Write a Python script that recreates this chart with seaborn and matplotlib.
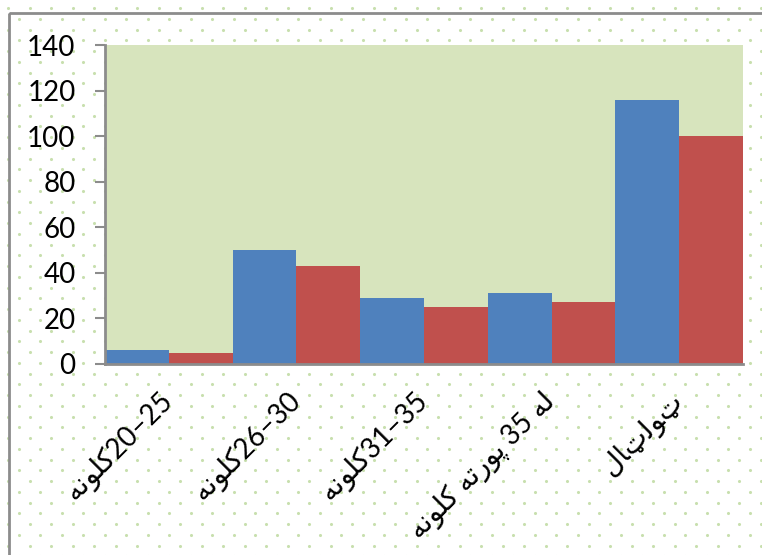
import numpy as np
import pandas as pd
import matplotlib
matplotlib.use("Agg")
import matplotlib.pyplot as plt
import seaborn as sns
from matplotlib.patches import Rectangle

# Age groups (Pashto, written in shaped presentation forms, visual order)
KALONA = "\uFEEA\uFEE7\uFEEE\uFEE0\uFB90"          # کلونه
PORTA = "\uFEEA\uFE97\uFEAD\uFEEE\uFB58"           # پورته
LA = "\uFEEA\uFEDF"                                # له
TOTAL = "\uFEDD\uFE8E\u067C\uFEDF\uFEEE\u067C"     # ټولټال

categories = [
    KALONA + "20\u201325",
    KALONA + "26\u201330",
    KALONA + "31\u201335",
    KALONA + " " + PORTA + " 35 " + LA,
    TOTAL,
]
series_a = [6, 50, 29, 31, 116]
series_b = [5, 43, 25, 27, 100]
y_ticks = [0, 20, 40, 60, 80, 100, 120, 140]

df = pd.DataFrame({
    "category": categories * 2,
    "value": series_a + series_b,
    "series": ["a"] * 5 + ["b"] * 5,
})

sns.set_theme(style="white")
plt.rcParams["font.family"] = ["Lato", "DejaVu Sans"]

W, H = 762, 555
fig = plt.figure(figsize=(W / 100, H / 100), dpi=100)
fig.patch.set_facecolor("white")

# dotted backdrop
bg = fig.add_axes([0, 0, 1, 1], zorder=-10)
bg.set_xlim(0, W)
bg.set_ylim(H, 0)
bg.axis("off")
sx, sy = 21.5, 10.75
rows = np.arange(8, H + sy, sy)
pts_x, pts_y = [], []
for i, yy in enumerate(rows):
    off = 8 if i % 2 == 0 else 8 + sx / 2
    xs = np.arange(off, W + sx, sx)
    pts_x.extend(xs)
    pts_y.extend([yy] * len(xs))
bg.scatter(pts_x, pts_y, s=5, color="#c8dfae", marker="o", linewidths=0)
bg.add_patch(Rectangle((9, 13), W, H, fill=False, edgecolor="#8c8c8c", linewidth=2))

ax = fig.add_axes([105 / W, 1 - 364 / H, (743 - 105) / W, (364 - 45) / H])
ax.set_facecolor("#d7e4bd")
sns.barplot(data=df, x="category", y="value", hue="series",
            palette=["#4f81bd", "#c0504d"], width=1.0, gap=0,
            saturation=1, legend=False, ax=ax, edgecolor="none")

ax.set_ylim(0, 140)
ax.set_xlim(-0.5, 4.5)
ax.set_yticks(y_ticks)
ax.set_yticklabels([str(t) for t in y_ticks], fontsize=20, color="black")
ax.tick_params(axis="y", which="major", direction="out", length=7.2,
               width=1.5, color="#8c8c8c", left=True, pad=14)
ax.tick_params(axis="x", length=0, pad=24)
ax.set_xlabel("")
ax.set_ylabel("")
for side in ["top", "right"]:
    ax.spines[side].set_visible(False)
for side in ["left", "bottom"]:
    ax.spines[side].set_color("#8c8c8c")
    ax.spines[side].set_linewidth(2)

ax.set_xticks(range(len(categories)))
ax.set_xticklabels(categories, rotation=45, ha="right", va="center",
                   rotation_mode="anchor", fontsize=20, color="black",
                   family=["Lato", "DejaVu Sans"])

fig.savefig("out.png", dpi=100)
